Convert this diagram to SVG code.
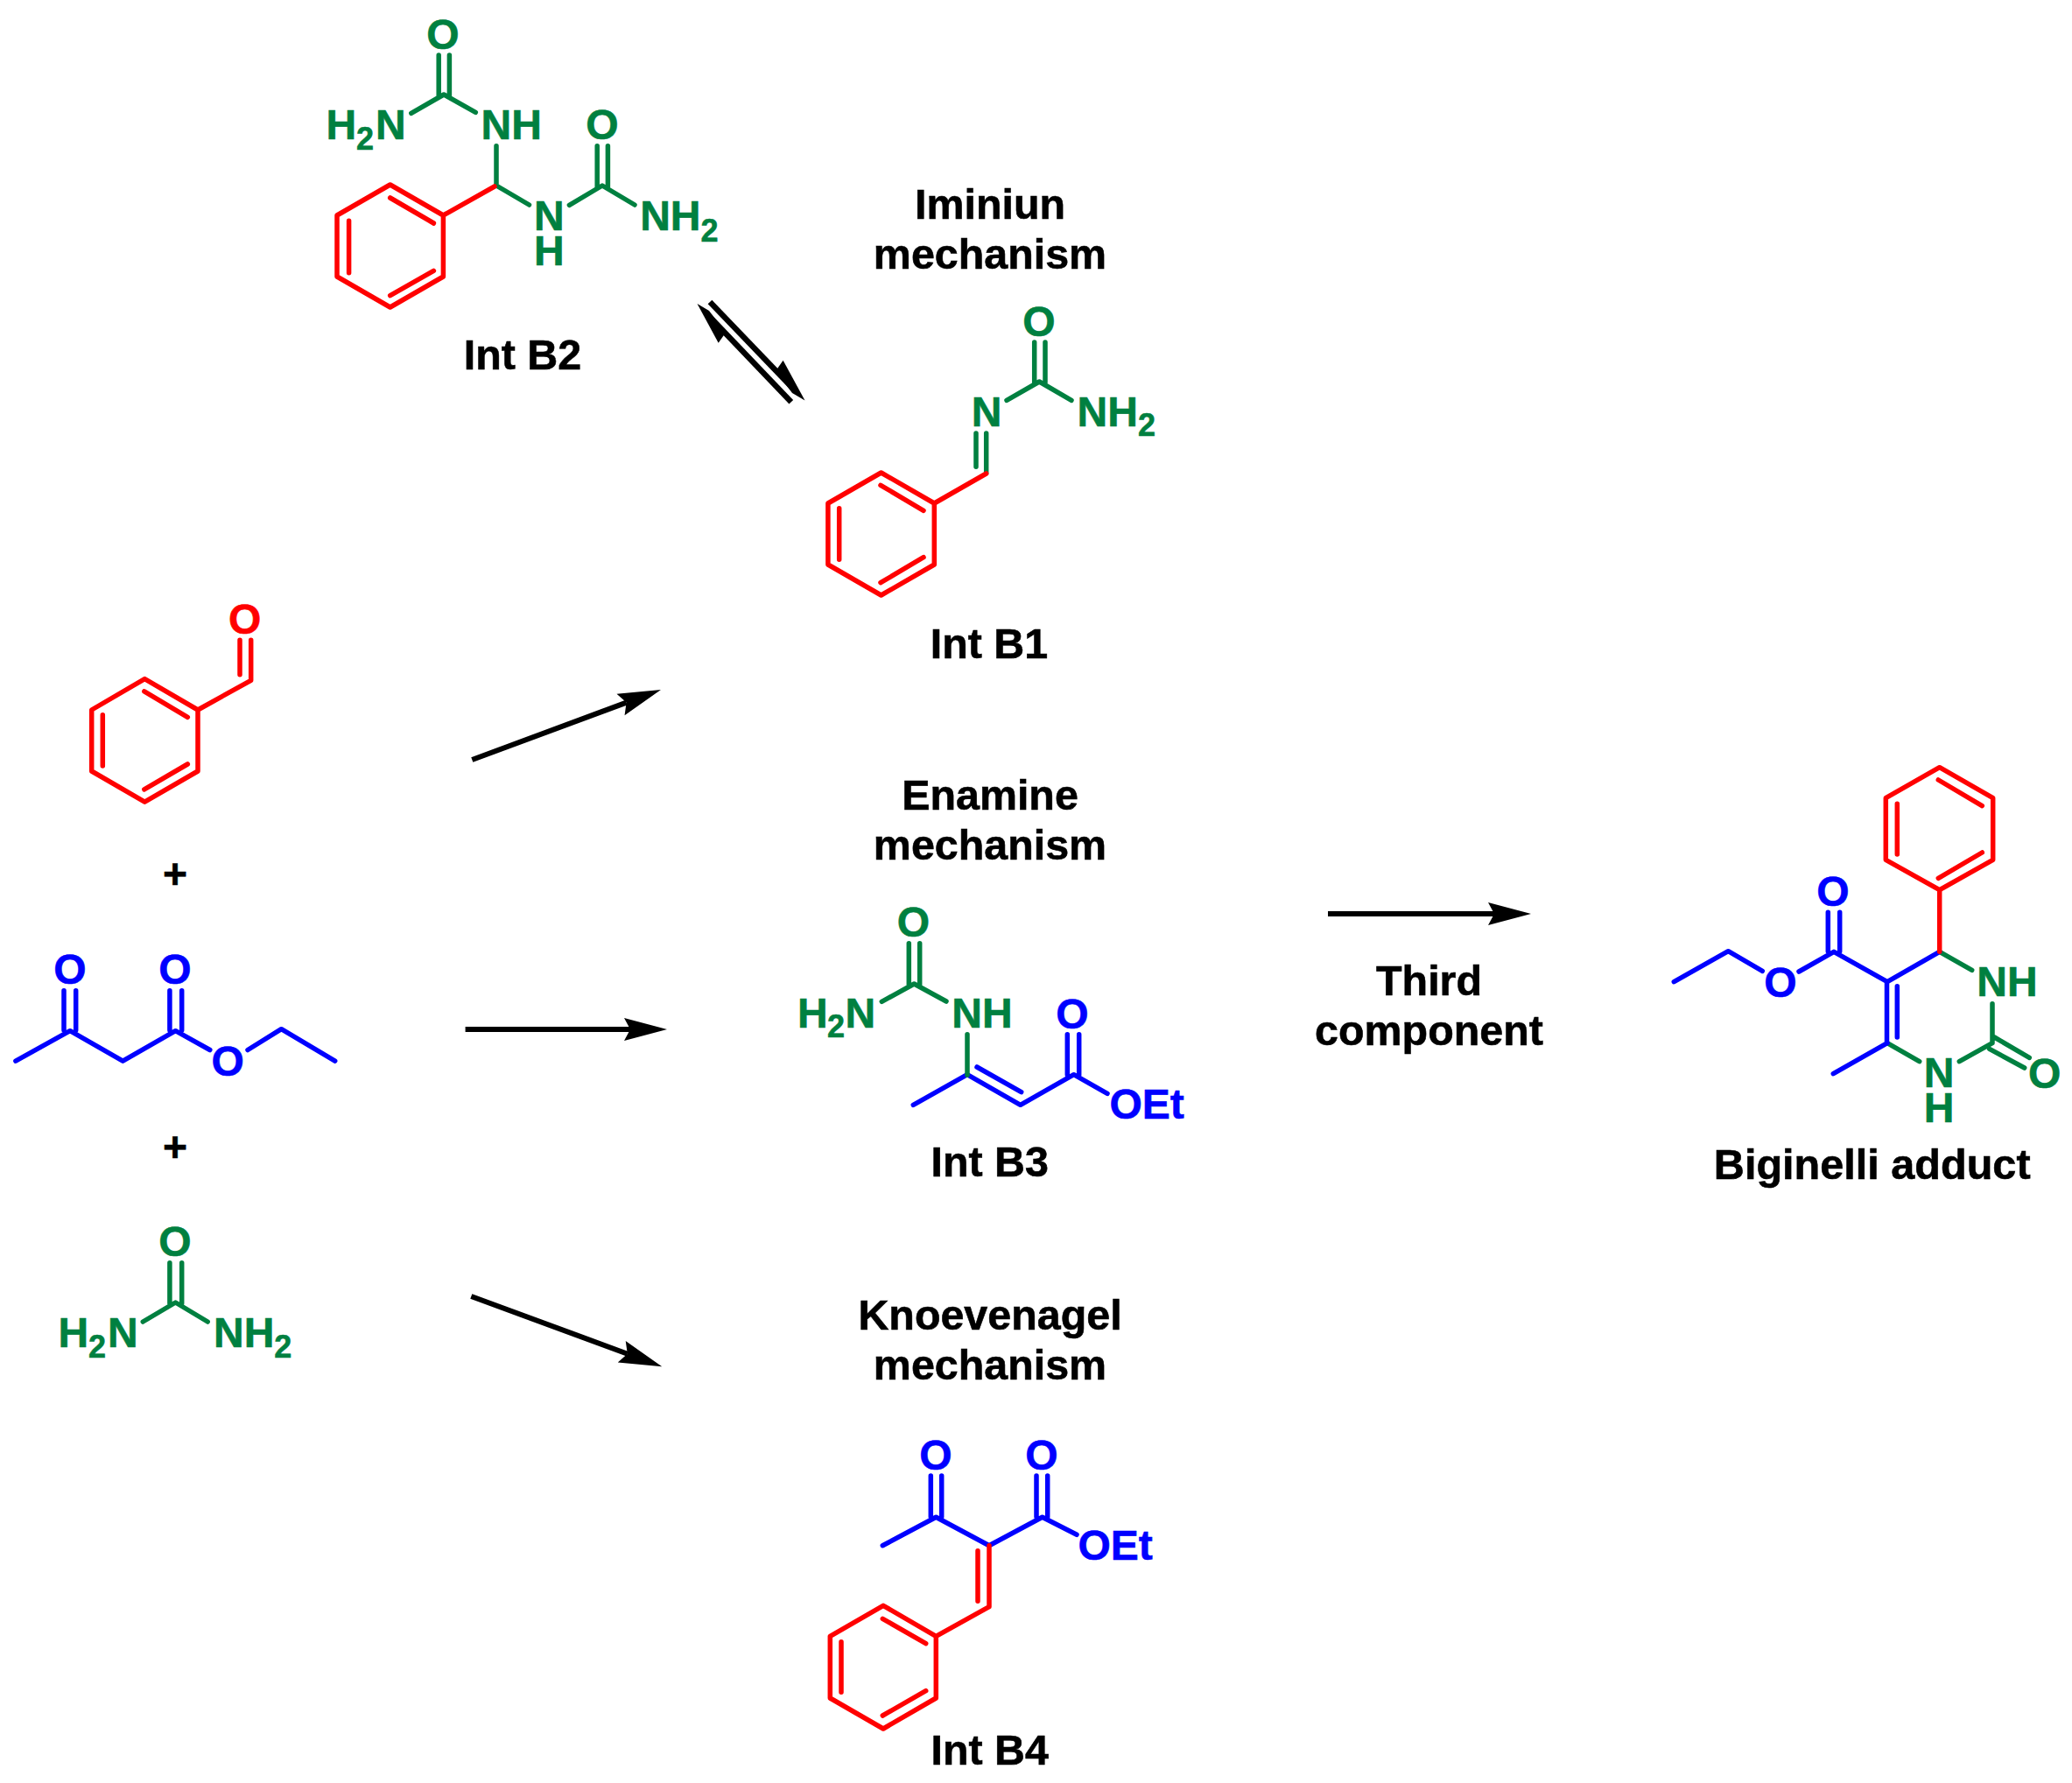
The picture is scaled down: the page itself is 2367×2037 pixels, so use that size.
<svg xmlns="http://www.w3.org/2000/svg" width="2367" height="2037" viewBox="0 0 2367 2037">
<defs>
<style>
text{font-family:"Liberation Sans",Arial,sans-serif;font-weight:700;font-size:48px;fill:#000;stroke:#000;stroke-width:.6}
.m{text-anchor:middle}
.l{font-size:48.4px}
.s{font-size:36px}
.gt,.gt tspan{fill:#008040;stroke:#008040}.bt{fill:#00f;stroke:#00f}.rt{fill:#f00;stroke:#f00}
path.r,path.g,path.b{fill:none;stroke-width:5.5;stroke-linecap:round;stroke-linejoin:round}
path.r{stroke:#f00}path.g{stroke:#008040}path.b{stroke:#00f}
.arr{stroke:#000;stroke-width:6;fill:none}
</style>
<marker id="head" markerUnits="userSpaceOnUse" markerWidth="52" markerHeight="28" refX="7" refY="14" orient="auto" overflow="visible"><path d="M0,1 L49,14 L0,27 L7,14z" fill="#000"/></marker>
</defs>
<rect width="2367" height="2037" fill="#fff"/>

<g id="connectors">
<path class="arr" d="M539.3,868 L715.6,802.6" marker-end="url(#head)"/>
<path class="arr" d="M531.6,1176 L720,1176" marker-end="url(#head)"/>
<path class="arr" d="M538.3,1481 L716.8,1546.7" marker-end="url(#head)"/>
<path class="arr" d="M1517,1044 L1707,1044" marker-end="url(#head)"/>
<path class="arr" d="M811,345 L908,446" style="stroke-width:6.5"/>
<path d="M919.5,457.5 L894.6,411.7 L886,424 L905,449 Z" fill="#000"/>
<path class="arr" d="M903.8,459.3 L808,359" style="stroke-width:6.5"/>
<path d="M796.5,347 L820.7,391.7 L829,380 L810,355 Z" fill="#000"/>
</g>

<g id="int-b2">
<path class="g" d="M501.2,63 V110 M513.4,63 V110 M469.8,129.3 L507,108 L543.3,128.3 M567,166.7 V212 L604.5,234 M650.4,234.3 L688,212 L725,234 M682.2,166.7 V214 M694.4,166.7 V214"/>
<path class="r" d="M445.7,211 L506.4,246 V316 L445.7,351 L385,316 V246 Z M445.7,226 L495.4,255 M398.6,252.3 V311.7 M445.7,337.7 L495.4,309.3 M506.4,246 L565,213"/>
<text class="m gt" x="506" y="55.5">O</text>
<text class="gt" x="372.6" y="159.3">H<tspan class="s" x="407" dy="11.4">2</tspan><tspan x="429" dy="-11.4">N</tspan></text>
<text class="gt" x="549.5" y="159.3">NH</text>
<text class="m gt" x="688" y="159.3">O</text>
<text class="gt" x="610" y="263.3">N<tspan x="610" dy="40">H</tspan></text>
<text class="gt" x="731.2" y="263.3">NH<tspan class="s" dy="12.5">2</tspan></text>
<text class="m l" x="597" y="421.7">Int B2</text>
</g>

<g id="label-iminium">
<text class="m l" x="1131" y="250">Iminiun</text>
<text class="m l" x="1131" y="307">mechanism</text>
</g>

<g id="int-b1">
<path class="g" d="M1181.7,391 V437 M1194,391 V437 M1150,457.3 L1187.3,436 L1224,457.3 M1115,495 V533.3 M1126.7,495 V540"/>
<path class="r" d="M1006.6,540 L1067.3,575 V645 L1006.6,680 L945.9,645 V575 Z M1006,554.3 L1055,583.3 M958.7,580.7 V639.3 M1006,665.7 L1055,636.7 M1067.3,575 L1126.7,541"/>
<text class="m gt" x="1187" y="383.5">O</text>
<text class="m gt" x="1127" y="487.3">N</text>
<text class="gt" x="1230.6" y="487.3">NH<tspan class="s" dy="11">2</tspan></text>
<text class="m l" x="1130" y="751.7">Int B1</text>
</g>

<g id="benzaldehyde">
<path class="r" d="M165.3,775.6 L226,811 V881 L165.3,916.2 L104.7,881 V811 Z M164.8,789.9 L214.3,819.4 M117.3,816.7 V875 M164.8,901.8 L214.3,873 M226,811 L286.7,777.3 V731.3 M274,731.3 V770.8"/>
<text class="m rt" x="279.6" y="723.5">O</text>
</g>

<g id="plus-1"><text class="m" x="200" y="1015">+</text></g>

<g id="acetoacetate">
<path class="b" d="M17.9,1212.2 L80,1177.7 L140.3,1212.2 L200.5,1177.7 L239.8,1199.5 M283,1199.5 L321.4,1175.7 L382.7,1212.2 M73,1131.7 V1177 M86.7,1131.7 V1177 M193.9,1131.7 V1177 M207.7,1131.7 V1177"/>
<text class="m bt" x="80" y="1124">O</text>
<text class="m bt" x="200" y="1124">O</text>
<text class="m bt" x="260.2" y="1228.5">O</text>
</g>

<g id="plus-2"><text class="m" x="200" y="1326.5">+</text></g>

<g id="urea">
<path class="g" d="M193.9,1442.7 V1489 M207.7,1442.7 V1489 M163.3,1510 L200.5,1488 L237.2,1510"/>
<text class="m gt" x="200" y="1435">O</text>
<text class="gt" x="66.5" y="1539.3">H<tspan class="s" x="101" dy="11.4">2</tspan><tspan x="123" dy="-11.4">N</tspan></text>
<text class="gt" x="244" y="1539.3">NH<tspan class="s" dy="11.4">2</tspan></text>
</g>

<g id="label-enamine">
<text class="m l" x="1131" y="925">Enamine</text>
<text class="m l" x="1131" y="982">mechanism</text>
</g>

<g id="int-b3">
<path class="g" d="M1038.3,1077.7 V1125 M1050.7,1077.7 V1125 M1007.3,1144.3 L1044.3,1124 L1081,1144"/>
<path class="b" d="M1043.3,1262.3 L1105,1227.7 L1165.7,1262.3 L1226.7,1227.7 L1265,1249.3 M1116,1219 L1166.7,1247.7 M1219.3,1181.7 V1228 M1232.7,1181.7 V1228"/>
<path class="g" d="M1105,1181.7 V1228.3"/>
<text class="m gt" x="1043.3" y="1070.3">O</text>
<text class="gt" x="911" y="1174.3">H<tspan class="s" x="945" dy="10.7">2</tspan><tspan x="965.5" dy="-10.7">N</tspan></text>
<text class="gt" x="1087.3" y="1174.3">NH</text>
<text class="m bt" x="1225" y="1174.7">O</text>
<text class="bt" x="1267.5" y="1278.3">OEt</text>
<text class="m l" x="1130.7" y="1344.3">Int B3</text>
</g>

<g id="label-third">
<text class="m l" x="1632.5" y="1137">Third</text>
<text class="m l" x="1632.5" y="1194">component</text>
</g>

<g id="biginelli-adduct">
<path class="r" d="M2215.7,876.7 L2276.7,911.7 V982.3 L2215.7,1016.7 L2154.3,982.3 V911.7 Z M2214.3,891 L2264.3,920.7 M2167.3,918.3 V976 M2214.3,1003.3 L2264.3,974"/>
<path class="g" d="M2215.7,1087.3 L2252.7,1108.3 M2276,1146.7 V1191.7 L2238.3,1212.7 M2156,1191.7 L2192.7,1212.7 M2278.3,1185 L2318.3,1208.3 M2272.7,1198.3 L2312.7,1220"/>
<path class="b" d="M2215.7,1087.3 L2156,1121.7 L2095,1087.3 L2055,1110 M2013.3,1109.3 L1974.3,1086.7 L1912.3,1121.7 M2088.3,1042.3 V1087 M2101.7,1042.3 V1087 M2155.5,1121.7 V1191.7 M2167.3,1126.7 V1185 M2156,1191.7 L2094.3,1226.7"/>
<path class="r" d="M2215.7,1016.7 V1087.3"/>
<text class="m bt" x="2094" y="1034.7">O</text>
<text class="m bt" x="2034" y="1138.7">O</text>
<text class="gt" x="2258.3" y="1138.3">NH</text>
<text class="m gt" x="2215" y="1242.3">N<tspan x="2215" dy="40">H</tspan></text>
<text class="m gt" x="2335.7" y="1243">O</text>
<text class="m l" x="2138.7" y="1347.3" style="font-size:48.6px">Biginelli adduct</text>
</g>

<g id="label-knoevenagel">
<text class="m l" x="1131" y="1518.5">Knoevenagel</text>
<text class="m l" x="1131" y="1575.5">mechanism</text>
</g>

<g id="int-b4">
<path class="b" d="M1063.3,1686 V1733 M1075.7,1686 V1733 M1184,1686 V1733 M1196.7,1686 V1733 M1008.3,1765.7 L1069.3,1733.3 L1130,1765.7 L1190.7,1733.3 L1230,1753.3"/>
<path class="r" d="M1130,1765.7 V1835.7 L1069.3,1869.3 M1117,1771.7 V1829.3 M1009,1834.3 L1069.3,1869.3 V1940 L1009,1975 L948.3,1940 V1869.3 Z M1008.3,1849.3 L1057.7,1877.7 M961,1875.7 V1933.3 M1008.3,1960 L1057.7,1931.7"/>
<text class="m bt" x="1069" y="1678.5">O</text>
<text class="m bt" x="1190" y="1678.5">O</text>
<text class="bt" x="1231.5" y="1781.7">OEt</text>
<text class="m l" x="1130.7" y="2015.7">Int B4</text>
</g>
</svg>
